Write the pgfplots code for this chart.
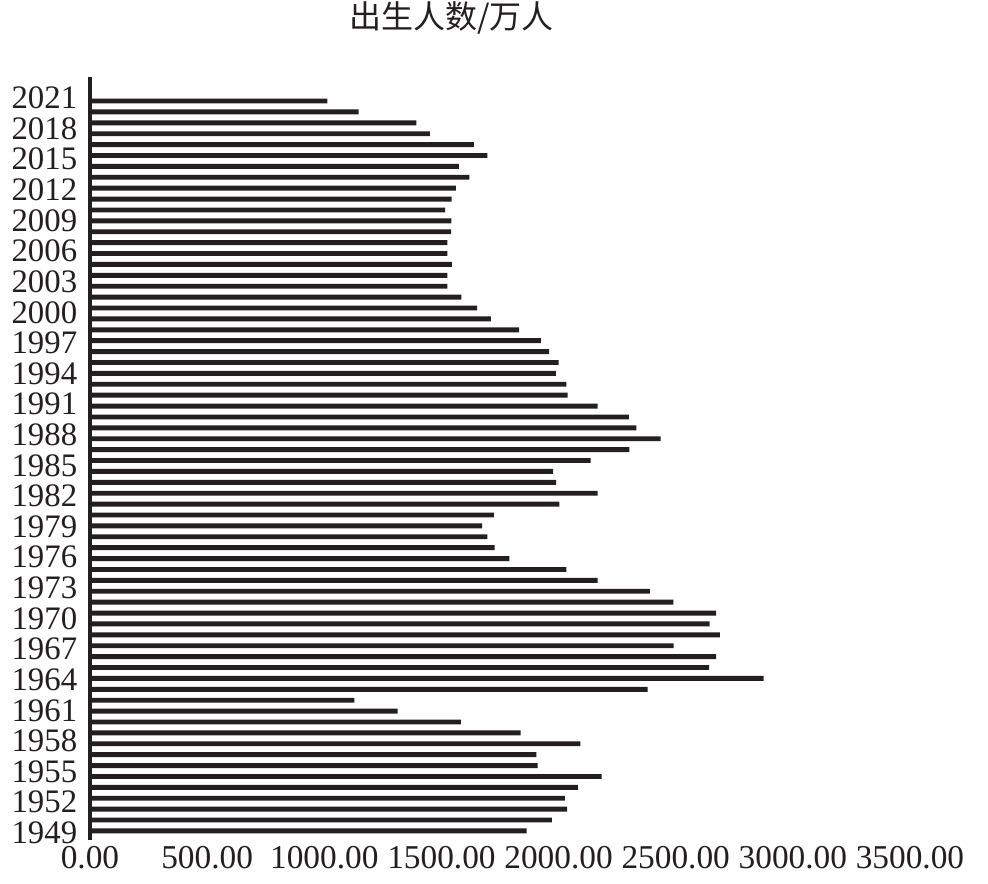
\documentclass[border=0pt]{standalone}
\usepackage{fontspec}
\setmainfont{Liberation Serif}
\newfontfamily\cjk{Noto Sans CJK SC}
\usepackage{pgfplots}
\pgfplotsset{compat=1.18}
\definecolor{ink}{RGB}{35,31,32}

\begin{document}
\begin{tikzpicture}
% frame of the whole picture (1px = 0.375pt, axis origin at px (90,840))
\useasboundingbox (-33.75pt,-16.5pt) rectangle (336.75pt,315pt);
\begin{axis}[
    scale only axis,
    width=307.5pt,
    height=286.1pt,
    xmin=0, xmax=3500,
    ymin=-0.83, ymax=69.2,
    axis lines*=left,
    x axis line style={draw=none},
    y axis line style={draw=ink, line width=1.3pt},
    xtick style={draw=none},
    ytick style={draw=none},
    xtick={0,500,1000,1500,2000,2500,3000,3500},
    xticklabels={0.00,500.00,1000.00,1500.00,2000.00,2500.00,3000.00,3500.00},
    ytick={-0.18,2.63,5.44,8.25,11.06,13.88,16.69,19.50,22.31,25.12,27.93,30.74,33.55,36.36,39.17,41.99,44.80,47.61,50.42,53.23,56.04,58.85,61.66,64.47,67.28},
    yticklabels={1949,1952,1955,1958,1961,1964,1967,1970,1973,1976,1979,1982,1985,1988,1991,1994,1997,2000,2003,2006,2009,2012,2015,2018,2021},
    xticklabel style={font=\fontsize{12.5}{14}\selectfont, text=ink, yshift=1pt},
    yticklabel style={font=\fontsize{12.3}{14}\selectfont, text=ink, xshift=3pt},
    xbar,
    bar width=0.45,
    clip=false,
]
\addplot[fill=ink, draw=none] coordinates {
(1864,0) (1971,1) (2037,2) (2027,3) (2082,4) (2184,5) (1911,6) (1905,7)
(2093,8) (1838,9) (1583,10) (1313,11) (1128,12) (2380,13) (2875,14) (2643,15)
(2673,16) (2491,17) (2689,18) (2645,19) (2673,20) (2490,21) (2390,22) (2167,23)
(2033,24) (1790,25) (1727,26) (1696,27) (1674,28) (1724,29) (2003,30) (2167,31)
(1990,32) (1977,33) (2137,34) (2302,35) (2436,36) (2332,37) (2300,38) (2167,39)
(2039,40) (2033,41) (1989,42) (2000,43) (1960,44) (1924,45) (1832,46) (1711,47)
(1652,48) (1585,49) (1525,50) (1525,51) (1545,52) (1525,53) (1525,54) (1541,55)
(1542,56) (1516,57) (1544,58) (1562,59) (1619,60) (1575,61) (1696,62) (1639,63)
(1451,64) (1393,65) (1147,66) (1013,67)
};
\end{axis}
\node[text=ink, font=\cjk\fontsize{12}{14}\selectfont] at (135.6pt,308.25pt) {出生人数/万人};
\end{tikzpicture}
\end{document}
